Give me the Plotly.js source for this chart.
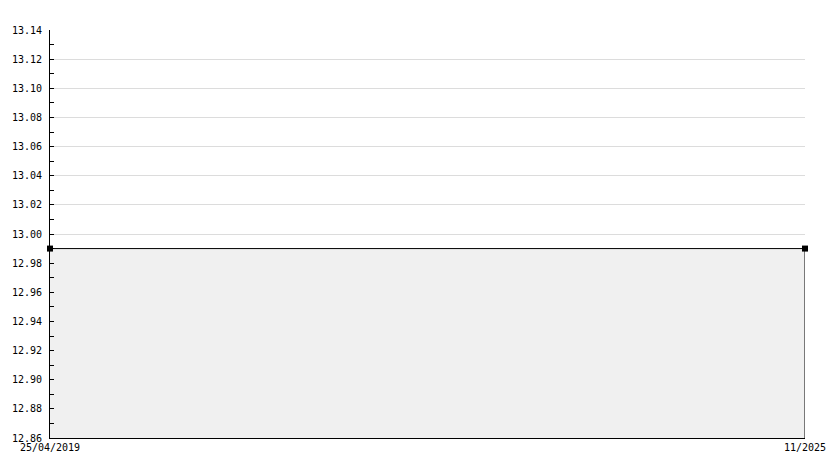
<!DOCTYPE html>
<html>
<head>
<meta charset="utf-8">
<script src="https://cdn.plot.ly/plotly-3.0.1.min.js"></script>
<style>
  body { margin: 0; background: #fff; }
  #chart { width: 834px; height: 468px; }
</style>
</head>
<body>
<div id="chart"></div>
<script>
// the two samples in the series
let dates = ['2019-04-25', '2025-11-01'];
let values = [12.99, 12.99];

// x tick labels only at both ends
let tick_dates = ['2019-04-25', '2025-11-01'];
let tick_labels = ['25/04/2019', '11/2025'];

let y_min = 12.86;
let y_max = 13.14;

function draw() {
    var trace = {
        x: dates,
        y: values,
        type: 'scatter',
        mode: 'lines+markers',
        fill: 'tozeroy',
        fillcolor: '#f0f0f0',
        line: { color: '#000', width: 1 },
        marker: { symbol: 'square', size: 6, color: '#000' },
        cliponaxis: false,
        hoverinfo: 'x+y'
    };

    var last = dates.length - 1;

    var layout = {
        width: 834,
        height: 468,
        margin: { l: 50, r: 29, t: 30, b: 30 },
        paper_bgcolor: '#fff',
        plot_bgcolor: '#fff',
        showlegend: false,
        font: { family: 'DejaVu Sans Mono, monospace', size: 10, color: '#000' },
        xaxis: {
            type: 'date',
            range: [dates[0], dates[last]],
            tickvals: tick_dates,
            ticktext: tick_labels,
            showgrid: false,
            zeroline: false,
            showline: true,
            linecolor: '#000',
            linewidth: 1,
            ticks: '',
            ticklabelstandoff: 0
        },
        yaxis: {
            range: [y_min, y_max],
            dtick: 0.02,
            tick0: y_min,
            tickformat: '.2f',
            showgrid: true,
            gridcolor: '#dcdcdc',
            gridwidth: 1,
            zeroline: false,
            showline: true,
            linecolor: '#000',
            linewidth: 1,
            ticks: 'inside',
            ticklen: 4,
            tickcolor: '#000',
            ticklabelstandoff: 5,
            minor: { dtick: 0.01, ticks: 'inside', ticklen: 4, tickcolor: '#000', showgrid: false }
        },
        shapes: [{
            // right edge of the filled area
            type: 'line',
            xref: 'x', yref: 'y',
            x0: dates[last], x1: dates[last],
            y0: y_min, y1: values[last],
            line: { color: '#000', width: 1 }
        }]
    };

    Plotly.newPlot('chart', [trace], layout, { displayModeBar: false, staticPlot: true });
}

draw();
</script>
</body>
</html>
